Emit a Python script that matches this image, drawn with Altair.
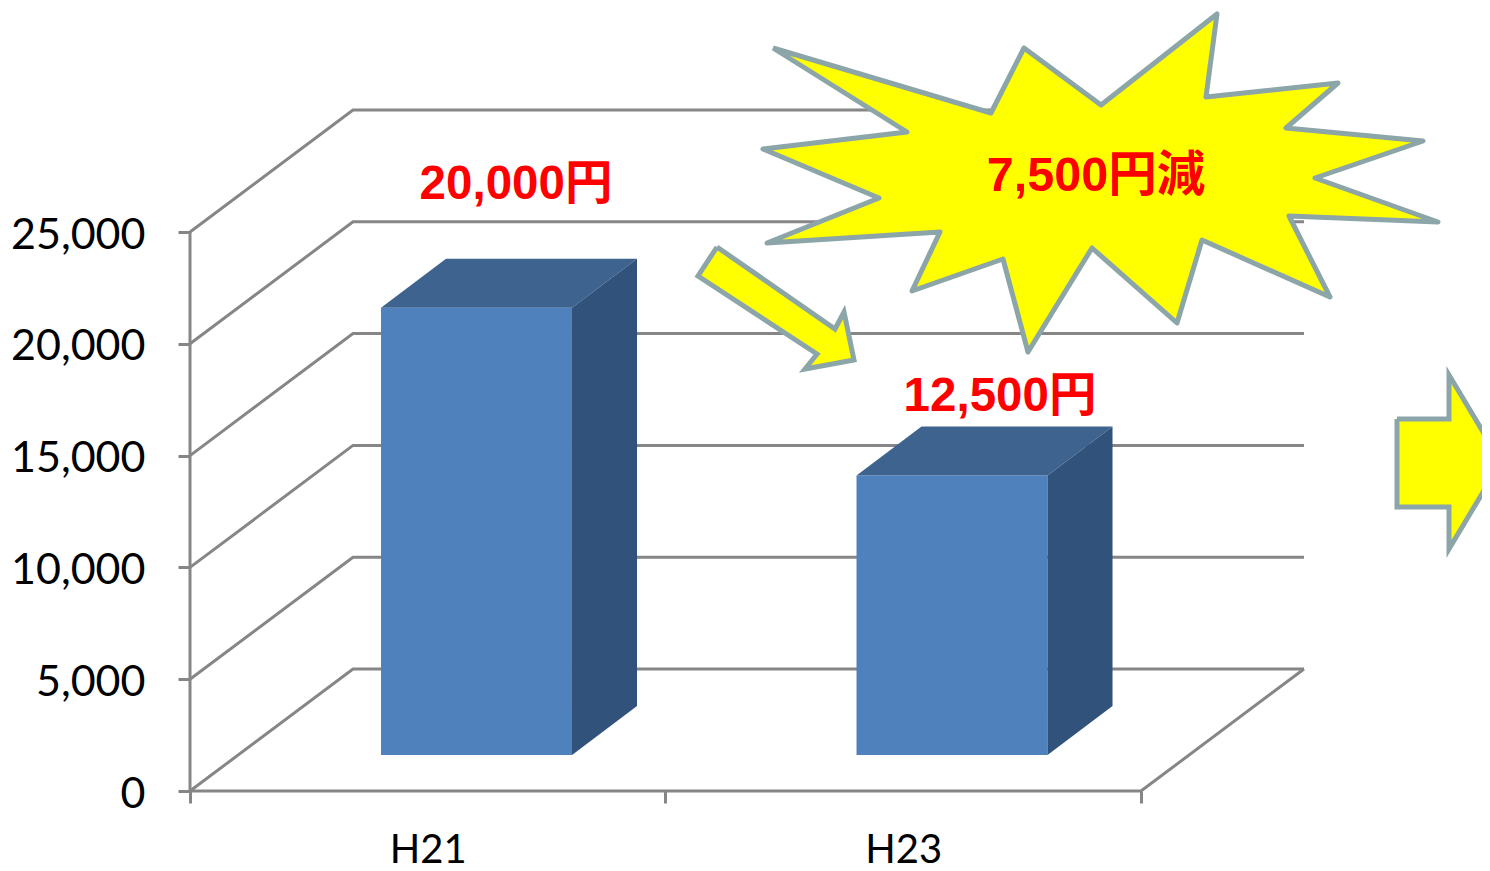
import altair as alt
import pandas as pd

# --- chart values -------------------------------------------------------
categories = ["H21", "H23"]
unit_costs = [20000, 12500]
y_ticks = [0, 5000, 10000, 15000, 20000, 25000]
cat_ticks = [0, 1, 2]
bar_labels = ["20,000円", "12,500円"]
callout_label = "7,500円減"

# 3-D frame, in axis units
BAR_LEFT = [0.4017, 1.4017]
BAR_W = 0.4017
BAR_BASE = 1610
BAR_DX = 0.1367
BAR_DY = 2191
FLOOR_DX = 0.3428
FLOOR_DY = 5456

# annotation outlines (pixels)
star_px = [(773,48),(991,113),(1024,48),(1101,105),(1217,14),(1206,97),(1338,83),(1286,128),
           (1423,141),(1315,178),(1438,222),(1289,216),(1330,297),(1202,240),(1177,323),(1092,248),
           (1028,352),(1003,259),(912,291),(940,232),(767,243),(879,198),(763,149),(907,132),(773,48)]
arrow_px = [(717,247),(835,329),(844,312),(854,360),(805,369),(817,354),(698,276),(717,247)]
big_arrow_px = [(1397,419),(1449,419),(1449,375),(1501,462),(1449,549),(1449,507),(1397,507),(1397,419)]

# --- scales -------------------------------------------------------------
PLOT_W, PLOT_H = 1292, 783
X0_PX, Y0_PX = 190, 791
PX_PER_CAT = 475.5
PX_PER_VAL = 559 / 25000
x_domain = [0, PLOT_W / PX_PER_CAT]
y_domain = [0, PLOT_H / PX_PER_VAL]
X = alt.Scale(domain=x_domain, nice=False, zero=False)
Y = alt.Scale(domain=y_domain, nice=False, zero=False)

def to_xy(pts):
    return [((p[0] - X0_PX) / PX_PER_CAT, (Y0_PX - p[1]) / PX_PER_VAL) for p in pts]

GRID = "#868686"
labels_expr = "datum.value == 0 ? 'H21' : datum.value == 1 ? 'H23' : ''"
x_axis = alt.Axis(values=cat_ticks, title=None, domain=False, grid=False, labelExpr=labels_expr,
                  labelOffset=PX_PER_CAT / 2, labelFont="Lato", labelFontSize=40, labelColor="black",
                  labelPadding=27, tickColor=GRID, tickWidth=3, tickSize=12, labelOverlap=False,
                  labelFlush=False)
y_axis = alt.Axis(values=y_ticks, title=None, domain=False, grid=False, labelExpr="format(datum.value, ',')",
                  labelFont="Lato", labelFontSize=43, labelColor="black", labelPadding=33, tickColor=GRID,
                  tickWidth=3, tickSize=12, labelOverlap=False, labelFlush=False, labelOffset=3)
EX = dict(scale=X, axis=x_axis)
EY = dict(scale=Y, axis=y_axis)

# --- grid / walls -------------------------------------------------------
grid_rows = []
for v in y_ticks:
    grid_rows += [dict(level=v, i=0, x=0, y=v),
                  dict(level=v, i=1, x=FLOOR_DX, y=v + FLOOR_DY),
                  dict(level=v, i=2, x=2 + FLOOR_DX, y=v + FLOOR_DY)]
grid_rows += [dict(level=-1, i=0, x=0, y=0), dict(level=-1, i=1, x=2, y=0),
              dict(level=-1, i=2, x=2 + FLOOR_DX, y=FLOOR_DY)]
grid_rows += [dict(level=-2, i=0, x=0, y=0), dict(level=-2, i=1, x=0, y=25000)]
grid = alt.Chart(pd.DataFrame(grid_rows)).mark_line(color=GRID, strokeWidth=3, clip=False).encode(
    x=alt.X("x:Q", **EX),
    y=alt.Y("y:Q", **EY),
    detail="level:N", order="i:Q")

# --- bars ---------------------------------------------------------------
front_df = pd.DataFrame({"x": BAR_LEFT, "x2": [b + BAR_W for b in BAR_LEFT],
                         "y": [BAR_BASE] * 2, "y2": [BAR_BASE + v for v in unit_costs]})
front = alt.Chart(front_df).mark_rect(color="#4F81BD").encode(
    x=alt.X("x:Q", **EX), x2="x2:Q",
    y=alt.Y("y:Q", **EY), y2="y2:Q")

top_rows, side_rows = [], []
for n, (left, v) in enumerate(zip(BAR_LEFT, unit_costs)):
    t = BAR_BASE + v
    r = left + BAR_W
    top_rows += [dict(b=n, x=left, y=t, y2=t),
                 dict(b=n, x=left + BAR_DX, y=t + BAR_DY, y2=t),
                 dict(b=n, x=r, y=t + BAR_DY, y2=t),
                 dict(b=n, x=r + BAR_DX, y=t + BAR_DY, y2=t + BAR_DY)]
    side_rows += [dict(b=n, x=r, y=t, y2=BAR_BASE),
                  dict(b=n, x=r + BAR_DX, y=t + BAR_DY, y2=BAR_BASE + BAR_DY)]

def face(rows, colour):
    return alt.Chart(pd.DataFrame(rows)).mark_area(color=colour, interpolate="linear").encode(
        x=alt.X("x:Q", **EX),
        y=alt.Y("y:Q", **EY), y2="y2:Q", detail="b:N")

top = face(top_rows, "#3E638F")
side = face(side_rows, "#31527A")

# --- callout shapes -----------------------------------------------------
def outline(pts, join):
    xy = to_xy(pts)
    df = pd.DataFrame({"i": range(len(xy)), "x": [p[0] for p in xy], "y": [p[1] for p in xy]})
    return alt.Chart(df).mark_line(stroke="#8BA5A8", strokeWidth=5, fill="#FFFF00",
                                   strokeJoin=join, clip=False).encode(
        x=alt.X("x:Q", **EX),
        y=alt.Y("y:Q", **EY), order="i:Q")

star = outline(star_px, "round")
arrow = outline(arrow_px, "miter")
big_arrow = outline(big_arrow_px, "miter")

# --- texts --------------------------------------------------------------
def labels(pts, strings, size):
    df = pd.DataFrame(to_xy(pts), columns=["x", "y"])
    df["t"] = strings
    return alt.Chart(df).mark_text(font="Liberation Sans, Noto Sans CJK JP", fontWeight="bold", fontSize=size,
                                   color="#FF0000", align="center", baseline="alphabetic").encode(
        x=alt.X("x:Q", **EX),
        y=alt.Y("y:Q", **EY), text="t:N")

bar_texts = labels([(516, 199), (1000, 411)], bar_labels, 47.5)
callout_text = labels([(1096, 191)], [callout_label], 48.5)

chart = alt.layer(grid, front, top, side, star, arrow, big_arrow, bar_texts, callout_text).properties(
    width=PLOT_W, height=PLOT_H,
    padding={"left": 182, "top": 0, "right": 0, "bottom": 80},
    autosize=alt.AutoSizeParams(type="none"),
    background="white",
).configure_view(stroke=None)

chart.save("out.html", embed_options={"renderer": "svg", "actions": False})
